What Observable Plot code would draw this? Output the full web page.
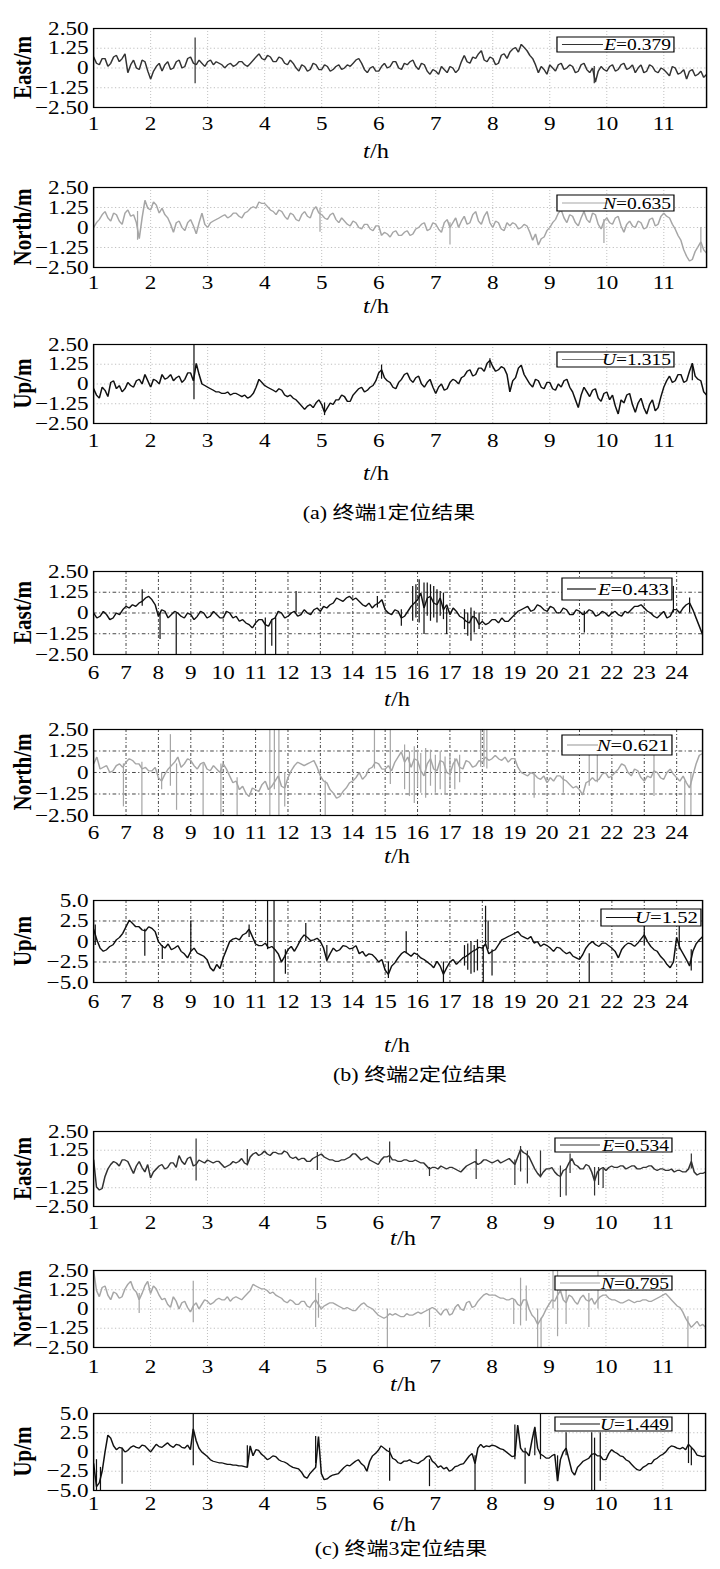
<!DOCTYPE html>
<html>
<head>
<meta charset="utf-8">
<script src="https://cdn.jsdelivr.net/npm/d3@7"></script>
<script src="https://cdn.jsdelivr.net/npm/@observablehq/plot@0.6"></script>
<style>
  html, body { margin: 0; padding: 0; background: #fff; overflow: hidden; }
  #root { position: relative; height: 1569px; transform-origin: 0 0; }
  .panel { position: absolute; left: 0; }
  .panel svg { display: block; overflow: visible; }
  .cap { position: absolute; width: 400px; text-align: center; white-space: nowrap;
         font-family: "Liberation Serif", "Noto Sans CJK SC", serif; font-size: 18px; line-height: 24px; color: #000; }
</style>
</head>
<body>
<div id="root"></div>
<script>
// ---------------- data ----------------
const xTicksAC = [1,2,3,4,5,6,7,8,9,10,11];
const xTicksB = [6,7,8,9,10,11,12,13,14,15,16,17,18,19,20,21,22,23,24];
const yTicks25 = [-2.5,-1.25,0,1.25,2.5];
const yTickLabels25 = ["−2.50","−1.25","0","1.25","2.50"];
const yTicks5 = [-5,-2.5,0,2.5,5];
const yTickLabels5 = ["−5.0","−2.5","0","2.5","5.0"];
const compNames = ["E","N","U"];
const compLabels = ["East/m","North/m","Up/m"];
const rmsA = ["0.379","0.635","1.315"];
const rmsB = ["0.433","0.621","1.52"];
const rmsC = ["0.534","0.795","1.449"];
const captions = ["(a) 终端1定位结果","(b) 终端2定位结果","(c) 终端3定位结果"];

// terminal 1: samples every 0.05 h from 1.00 h (one row per hour)
const a1_E = [
0.7,0.3,0.2,0.6,0.6,0.1,0.3,0.7,0.8,0.4,0.6,0.9,-0.3,0.2,0.5,0.0,-0.1,0.5,0.4,-0.2,
-0.7,-0.2,0.1,0.3,-0.2,0.2,0.4,-0.1,0.0,0.4,0.5,0.0,0.1,0.6,0.7,0.3,0.2,0.5,0.3,0.1,
0.4,0.5,0.2,0.4,0.3,0.2,0.0,0.2,0.3,0.1,0.2,0.4,0.4,0.2,0.1,0.3,0.5,0.7,0.9,0.6,
0.5,0.8,0.7,0.4,0.4,0.7,0.6,0.3,0.2,0.5,0.3,0.0,-0.2,0.2,0.1,-0.2,-0.1,0.3,0.2,-0.1,
-0.1,0.2,0.1,-0.2,-0.1,0.1,0.2,-0.1,0.0,0.2,0.1,0.3,0.5,0.6,0.3,-0.1,-0.3,0.0,0.1,-0.2,
-0.2,0.1,0.3,0.0,0.1,0.4,0.4,0.0,-0.1,0.3,0.2,0.4,0.5,0.1,-0.1,0.3,0.2,-0.2,-0.4,-0.1,
-0.2,-0.4,0.1,-0.1,-0.3,0.1,0.0,-0.3,-0.1,0.4,0.8,0.4,0.3,0.7,0.6,0.9,1.1,0.5,0.4,0.7,
0.6,0.2,0.3,0.8,0.9,0.6,1.0,1.2,1.3,1.0,1.5,1.3,1.1,0.8,0.6,0.2,-0.3,0.1,-0.1,-0.4,
0.2,0.0,-0.2,0.2,0.3,-0.1,0.0,0.2,0.1,-0.3,-0.2,0.2,0.3,-0.1,-0.3,0.0,-0.9,-0.2,0.1,-0.1,
-0.2,0.1,0.2,-0.2,-0.1,0.2,0.3,-0.1,0.0,0.2,-0.3,0.0,0.2,-0.3,-0.2,0.2,0.1,-0.2,-0.3,0.0,
-0.1,-0.3,-0.5,0.1,0.0,-0.4,-0.3,-0.1,-0.7,-0.2,-0.1,-0.5,-0.4,-0.2,-0.6,-0.4];
const a1_spikes = [[2.78,-1.0,1.9],[9.78,-1.0,0.1]];

const a2_N = [
0.0,0.3,0.5,0.8,1.0,0.6,0.4,0.9,0.8,0.4,0.2,0.9,1.1,0.7,0.8,0.3,-0.7,0.6,1.7,1.2,
1.1,1.6,1.4,0.9,1.2,0.8,0.6,0.2,-0.3,0.3,0.4,0.0,-0.2,0.3,0.5,0.1,-0.4,0.3,0.9,0.2,
0.0,0.3,0.4,0.5,0.6,0.7,0.8,0.6,0.7,0.9,0.9,0.7,0.6,0.9,1.0,1.2,1.3,1.2,1.6,1.5,
1.5,1.3,1.1,1.0,0.8,1.1,1.0,0.7,0.5,0.9,0.8,0.5,0.4,0.8,1.0,0.7,0.6,1.1,1.3,0.9,
0.8,0.6,0.5,0.8,0.9,0.5,0.3,0.6,0.4,0.2,0.1,0.4,0.3,0.0,-0.1,0.2,0.2,-0.1,-0.2,0.1,
0.1,-0.5,-0.3,-0.4,-0.6,-0.3,-0.2,-0.5,-0.5,-0.3,-0.2,-0.5,-0.4,-0.1,0.0,0.2,0.3,-0.2,-0.1,0.3,
0.2,-0.1,-0.3,0.3,0.5,0.0,0.3,0.6,0.0,0.4,0.7,0.2,0.3,0.8,1.0,0.4,0.2,0.7,1.0,0.3,
0.0,0.4,0.3,-0.1,-0.2,0.3,0.1,0.3,0.2,-0.1,0.0,0.2,0.1,-0.3,-0.8,-0.4,-1.1,-0.7,-0.6,-0.2,
0.0,0.3,0.5,0.9,1.1,0.6,0.3,0.8,0.7,0.3,0.1,0.6,1.0,0.5,0.3,0.9,0.8,0.2,-0.1,0.4,
0.6,0.3,0.2,0.6,0.7,0.1,-0.3,0.2,0.4,0.1,0.0,0.4,0.3,-0.1,0.0,0.5,0.6,0.1,0.2,0.7,
0.9,0.7,0.6,0.2,-0.1,-0.5,-0.8,-1.4,-1.8,-2.1,-2.0,-1.5,-1.2,-0.9,-1.4,-1.6];
const a2_spikes = [[1.77,-0.8,1.0],[4.97,-0.3,1.2],[7.25,-1.1,0.3],[9.95,-1.0,0.5],[11.65,-1.6,0.0]];

const a3_U = [
-0.3,-0.7,-0.9,-0.2,-0.4,-0.8,0.1,0.2,-0.3,-0.1,-0.5,-0.3,0.1,-0.1,-0.2,0.2,0.3,0.0,0.6,0.2,
-0.2,0.3,0.2,0.0,0.6,0.3,0.4,0.6,0.2,0.4,0.5,0.1,0.3,0.7,0.7,0.2,1.3,0.6,0.0,-0.1,
-0.2,-0.3,-0.4,-0.5,-0.5,-0.6,-0.6,-0.5,-0.7,-0.6,-0.6,-0.7,-0.8,-0.7,-0.9,-0.8,-0.6,-0.2,0.3,0.1,
-0.1,-0.2,-0.3,-0.4,-0.5,-0.3,-0.4,-0.7,-0.8,-0.7,-0.9,-1.0,-1.2,-1.4,-1.6,-1.4,-1.3,-1.5,-1.2,-1.0,
-1.3,-1.8,-1.5,-1.2,-1.3,-1.0,-1.0,-0.7,-0.8,-1.1,-1.1,-0.7,-0.5,-0.3,-0.2,-0.5,-0.4,-0.2,-0.1,0.2,
0.7,0.9,0.4,0.2,0.1,-0.2,-0.3,0.1,0.3,0.6,0.7,0.3,0.1,0.4,0.5,0.0,-0.2,0.1,0.3,-0.2,
-0.6,-0.2,0.0,-0.4,-0.3,0.1,0.3,0.2,0.0,0.4,0.5,0.8,0.9,0.5,0.6,1.0,1.0,0.8,1.3,1.5,
1.1,0.8,0.9,1.1,1.0,0.6,-0.5,0.2,0.4,1.0,1.2,0.6,0.3,0.0,-0.2,0.3,0.2,-0.2,-0.3,0.1,
0.1,-0.3,-0.4,0.0,-0.2,0.2,0.3,-0.2,-0.5,-1.0,-1.5,-0.7,-0.2,-0.5,-0.8,-0.4,-0.3,-0.9,-1.1,-0.6,
-0.5,-1.0,-0.7,-1.4,-1.9,-1.0,-1.2,-0.7,-0.6,-1.3,-1.8,-1.2,-0.9,-1.5,-1.9,-1.3,-1.0,-1.7,-1.5,-0.8,
-0.2,0.2,0.5,0.1,0.2,0.6,0.6,0.1,0.2,0.8,1.3,0.5,0.3,0.2,-0.5,-0.7];
const a3_spikes = [[2.76,-1.0,2.5],[5.05,-2.0,-1.2],[6.05,0.3,1.2],[7.95,1.0,1.6],[11.5,0.2,1.3]];

// terminal 2: samples every 0.1 h from 6.0 h (one row per two hours)
const b1_E = [
0.0,-0.3,-0.2,0.1,-0.1,-0.4,-0.3,0.0,-0.1,0.2,0.4,0.3,0.5,0.4,0.6,0.7,0.9,1.0,0.8,0.5,
-0.2,0.2,0.1,-0.3,-0.1,0.1,0.0,-0.2,-0.3,0.0,-0.1,-0.4,-0.2,0.1,0.0,-0.3,-0.2,0.1,-0.1,-0.3,
-0.3,0.1,0.0,-0.3,-0.2,-0.5,-0.4,-0.6,-0.7,-0.9,-0.6,-0.4,-0.4,-0.7,-0.8,-0.4,-0.3,0.1,0.0,-0.3,
-0.2,0.0,0.1,-0.2,-0.1,0.2,0.0,-0.1,0.2,0.3,0.1,0.4,0.3,0.5,0.6,0.9,0.8,0.7,0.9,1.0,
0.8,0.9,0.7,0.5,0.4,0.6,0.3,0.5,0.6,0.8,0.2,0.0,-0.1,0.2,0.1,-0.3,-0.2,0.1,0.4,0.6,
0.8,1.2,0.3,0.9,1.0,0.6,0.5,0.9,0.2,0.5,-0.1,0.3,0.1,-0.2,-0.3,-0.5,-0.6,-0.2,-0.3,-0.7,
-0.5,-0.7,-0.6,-0.4,-0.4,-0.6,-0.3,-0.5,-0.5,-0.3,-0.1,0.1,0.2,0.3,0.4,0.1,0.2,0.5,0.4,0.2,
0.1,0.4,0.3,0.0,0.0,0.3,0.2,-0.1,-0.1,0.2,0.1,-0.1,0.0,0.2,0.1,-0.2,-0.1,0.1,0.0,-0.2,
0.0,0.1,-0.1,-0.2,0.1,0.0,0.2,0.4,0.4,0.5,0.3,0.1,0.0,-0.2,-0.3,-0.1,0.1,-0.3,-0.2,0.2,
0.2,0.0,0.3,0.5,0.6,0.2,-0.3,-0.8,-1.3];
const b1_spikes = [[7.5,0.4,1.4],[8.05,-1.6,0.0],[8.55,-2.5,0.0],[11.3,-2.5,-0.3],[11.5,-2.0,-0.4],[11.62,-2.5,-0.3],
[12.25,0.0,1.3],[14.76,0.3,1.0],[15.5,-0.8,0.2],[15.85,-0.5,1.6],[15.95,-0.3,1.7],[16.05,-0.6,2.0],[16.2,-1.3,1.8],
[16.3,-0.2,1.8],[16.4,-0.5,1.7],[16.5,-0.3,1.6],[16.6,-0.6,1.4],[16.7,-0.2,1.3],[16.8,-0.4,1.2],[16.9,-1.3,0.3],
[17.45,-1.0,0.2],[17.55,-1.4,0.0],[17.65,-1.7,0.3],[17.75,-1.2,0.1],[17.9,-1.0,0.0],[21.15,-1.2,0.1],[23.9,0.0,1.6],[24.4,0.0,0.9]];

const b2_N = [
0.5,0.9,0.2,0.3,0.4,0.0,0.1,0.4,0.5,0.3,0.6,0.8,0.7,0.5,0.5,0.2,0.3,0.1,0.1,0.3,
-0.3,-0.5,-0.1,0.2,0.4,0.6,0.9,0.3,0.5,0.8,0.7,0.4,0.2,0.5,0.6,0.2,0.1,0.4,0.2,0.0,
0.5,0.2,-0.2,-0.6,-0.5,-1.0,-0.8,-1.2,-1.4,-0.9,-1.0,-1.1,-0.7,-0.5,-1.0,-0.8,-0.5,-0.2,-0.8,-0.9,
-0.3,0.1,0.4,0.6,0.5,0.4,0.5,0.6,0.7,0.3,-0.2,-0.5,-0.6,-1.0,-1.2,-1.5,-1.4,-1.1,-0.9,-0.6,
-0.5,-0.3,0.0,-0.4,-0.2,0.2,0.3,0.6,0.5,0.2,0.2,0.4,0.1,0.6,0.9,1.2,0.6,0.9,0.3,0.8,
0.7,0.1,-0.2,0.5,0.8,0.2,0.1,0.7,0.6,0.0,-0.1,0.5,0.8,0.3,0.2,0.7,0.6,0.3,0.4,0.7,
0.6,0.9,0.7,0.8,1.0,0.8,0.7,0.9,0.6,0.8,0.8,0.3,0.0,-0.1,-0.2,0.0,-0.1,-0.3,-0.4,-0.2,
-0.6,-0.3,-0.5,-0.2,-0.2,-0.4,-0.5,-0.7,-0.9,-0.8,-1.0,-1.3,-0.6,-0.5,-0.3,-0.5,-0.4,-0.1,0.0,-0.3,
-0.2,0.0,0.2,0.5,0.4,0.0,-0.2,0.2,0.1,-0.3,-0.5,-0.2,-0.3,0.1,0.0,-0.3,-0.4,0.0,0.2,-0.1,
-0.3,-0.5,-0.2,-0.6,-0.9,-0.2,0.5,1.0,1.1];
const b2_spikes = [[6.92,-2.0,0.5],[7.49,-2.5,0.6],[8.1,-1.0,0.0],[8.37,-0.8,2.2],[8.56,-2.2,0.5],[9.38,-2.5,0.5],
[9.93,-2.5,0.5],[10.43,-2.5,-0.3],[11.44,-2.5,2.5],[11.58,-1.0,2.5],[11.72,-2.5,2.5],[11.9,-2.0,0.0],[13.15,-2.5,-0.5],
[14.67,0.2,2.5],[15.16,-0.7,2.5],[15.6,-1.0,1.6],[15.75,-1.4,1.2],[15.9,-1.8,1.5],[16.0,-0.9,1.3],[16.1,-1.2,1.1],
[16.25,-1.5,1.4],[16.4,-0.8,1.3],[16.55,-1.2,1.0],[16.7,-1.0,1.2],[16.85,-1.3,0.9],[17.0,-0.9,1.1],[17.15,-1.0,0.8],
[17.3,-0.6,1.0],[17.95,0.3,2.5],[18.05,0.3,2.5],[18.14,0.2,2.5],[19.6,-1.5,0.0],[20.5,-1.2,-0.2],[21.3,-0.8,1.8],
[21.55,-0.6,1.3],[23.3,-1.4,2.2],[24.25,-2.5,-0.5],[24.44,-2.5,0.0]];

const b3_U = [
1.5,0.2,-0.8,-1.2,-1.0,-0.6,-0.4,0.2,0.5,1.0,1.8,2.6,2.2,1.8,1.8,1.4,1.3,1.8,1.6,1.2,
0.0,-0.5,-0.8,-0.3,-1.0,-0.8,-0.5,-1.2,-1.5,-2.0,-1.2,-0.8,-1.4,-1.6,-1.8,-2.2,-3.2,-3.6,-2.8,-3.3,
-2.0,-1.0,0.0,0.3,0.4,0.2,0.8,1.0,1.5,0.6,-0.3,-0.5,-0.5,-0.2,-0.8,-0.6,-1.0,-1.5,-2.5,-1.8,
-1.0,-0.6,-1.2,-0.5,0.3,0.8,0.5,0.1,0.2,0.4,0.0,-0.8,-2.3,-1.5,-0.8,-1.2,-1.0,-0.5,-0.6,-0.9,
-0.8,-0.5,-1.5,-1.2,-1.8,-1.5,-1.6,-2.0,-2.5,-2.2,-3.5,-4.0,-3.0,-2.6,-2.0,-1.5,-1.2,-1.5,-1.8,-1.4,
-1.6,-2.0,-2.2,-2.5,-2.8,-3.2,-2.4,-3.0,-4.0,-3.2,-2.5,-2.2,-2.8,-2.4,-2.0,-1.8,-1.5,-1.2,-1.0,-0.7,
-0.8,-0.3,-1.5,-1.2,-1.0,-0.4,0.2,0.4,0.6,0.8,1.0,1.2,0.7,0.5,0.3,0.6,-0.2,0.0,-0.6,-0.3,
-0.5,-0.8,-1.2,-0.7,-0.8,-1.2,-1.5,-1.3,-1.8,-2.0,-2.2,-1.6,-0.8,-0.3,0.0,-0.4,-0.6,-0.2,-0.2,-0.5,
-0.8,-1.2,-2.0,-1.0,-0.5,-0.2,-0.3,-0.6,-0.2,0.3,0.8,0.0,-0.6,-1.0,-1.2,-1.8,-2.2,-2.8,-3.2,-2.5,
0.5,-0.8,-1.5,-2.2,-3.0,-1.2,-0.3,0.2,0.6];
const b3_spikes = [[6.05,-0.5,2.0],[7.58,-1.8,1.5],[8.12,-2.2,-0.5],[9.0,-1.2,2.5],[10.8,0.5,2.0],[11.37,-1.0,5.0],
[11.57,-5.0,5.0],[11.92,-4.0,-1.0],[12.55,0.0,2.2],[13.2,-2.5,-0.5],[15.1,-4.5,-2.5],[15.65,-1.5,1.2],[16.8,-5.0,-2.5],
[17.45,-3.0,-0.5],[17.55,-3.5,-0.3],[17.65,-4.0,0.0],[17.75,-3.8,-0.5],[17.85,-3.6,0.2],[18.03,-5.0,-0.5],
[18.1,-0.5,4.3],[18.18,-1.0,2.5],[18.3,-4.2,-1.0],[21.3,-5.0,-1.5],[23.0,-0.5,2.0],[24.08,-1.0,2.5],[24.45,-3.6,-1.0]];

// terminal 3: samples every 0.05 h from 1.00 h (one row per hour)
const c1_E = [
0.6,-1.2,-1.4,-1.3,-0.5,0.0,0.3,0.5,0.4,0.2,0.6,0.6,0.5,0.1,-0.3,0.2,0.5,0.1,-0.2,0.3,
-0.6,-0.2,0.0,0.2,0.3,0.0,0.1,0.4,0.4,0.1,0.9,0.5,0.3,0.7,0.8,0.2,0.3,0.6,0.5,0.4,
0.6,0.5,0.4,0.5,0.5,0.3,0.1,0.2,0.3,0.5,0.4,0.5,0.7,0.4,0.3,0.8,1.0,1.1,0.9,1.0,
1.2,1.0,0.9,1.1,1.1,1.0,1.0,1.2,1.1,0.8,0.7,0.8,0.6,0.7,0.7,0.5,0.5,0.7,0.8,0.9,
1.0,0.8,0.7,0.6,0.6,0.5,0.5,0.6,0.6,0.7,0.8,1.0,1.0,0.8,0.6,0.7,0.8,0.6,0.5,0.4,
0.3,0.6,0.8,0.8,0.9,0.6,0.6,0.5,0.5,0.6,0.6,0.5,0.5,0.6,0.5,0.4,0.4,0.2,0.0,0.1,
0.1,0.0,0.2,0.1,0.0,0.1,0.1,0.0,-0.1,-0.2,0.0,0.2,0.3,0.4,0.5,0.3,0.4,0.6,0.6,0.5,
0.4,0.5,0.6,0.4,0.5,0.6,0.7,0.5,0.3,0.8,1.3,1.1,1.0,0.8,0.4,0.0,-0.3,-0.5,-0.2,0.0,
0.0,0.1,-0.2,-0.4,-0.5,-0.1,0.0,0.4,0.7,0.3,0.2,0.0,0.0,0.3,0.2,-0.2,-0.8,-0.2,0.0,0.1,
-0.1,0.1,0.2,0.1,0.1,0.2,0.2,0.0,0.1,0.2,0.2,0.0,0.0,0.1,0.1,0.2,0.2,0.0,-0.1,0.0,
0.0,-0.1,-0.1,0.0,-0.2,-0.1,-0.1,-0.2,-0.2,0.0,0.5,-0.2,-0.4,-0.3,-0.3,-0.2];
const c1_spikes = [[2.8,-0.8,2.0],[3.7,0.2,1.3],[4.93,-0.1,1.1],[6.2,0.4,1.8],[6.9,-0.5,0.1],[7.72,-0.7,1.3],
[8.4,-1.1,0.6],[8.5,-0.2,1.5],[8.62,-1.0,1.2],[8.85,-0.6,1.2],[9.2,-1.9,0.2],[9.3,-1.8,0.0],[9.37,-0.3,1.0],
[9.8,-1.8,0.1],[9.87,-1.1,0.1],[9.95,-1.3,0.0],[11.5,0.0,1.0]];

const c2_N = [
2.5,1.2,0.8,1.4,1.5,0.9,0.6,1.1,1.0,0.7,0.8,1.3,1.6,1.8,1.3,1.1,0.6,1.0,1.5,1.8,
1.0,1.5,1.3,0.9,0.6,0.7,0.3,0.1,0.8,0.5,0.0,0.4,0.5,0.1,-0.2,0.2,0.4,0.0,0.3,0.6,
0.5,0.3,0.4,0.6,0.7,0.6,0.6,0.8,0.5,0.7,0.8,0.7,0.6,0.8,1.0,1.2,1.6,1.5,1.4,1.3,
1.3,1.2,1.0,1.1,0.9,0.8,0.7,0.5,0.4,0.6,0.5,0.3,0.3,0.5,0.5,0.2,0.1,0.4,0.6,0.3,
0.0,0.2,0.3,0.4,0.4,0.3,0.2,0.1,0.0,0.1,0.0,-0.1,-0.1,0.1,0.3,0.4,0.2,0.1,0.0,-0.2,
-0.4,-0.5,-0.6,-0.5,-0.3,-0.4,-0.3,-0.4,-0.5,-0.5,-0.3,-0.4,-0.4,-0.3,-0.2,-0.3,-0.2,-0.1,0.0,0.1,
0.0,-0.2,-0.4,-0.1,0.0,-0.4,-0.3,0.1,0.3,0.0,-0.1,0.4,0.5,0.1,0.2,0.5,0.7,0.9,1.0,0.9,
0.9,0.9,0.8,0.7,0.7,0.6,0.6,0.7,0.6,0.3,0.2,0.6,0.6,0.0,-0.4,-0.6,-1.0,-0.7,-0.4,0.0,
0.3,0.6,0.5,0.9,1.2,0.6,0.4,0.9,0.8,0.5,0.3,0.7,0.9,0.6,0.5,0.7,0.3,0.6,0.8,0.9,
0.9,0.7,0.6,0.6,0.5,0.4,0.4,0.5,0.6,0.5,0.4,0.5,0.5,0.6,0.6,0.5,0.5,0.6,0.7,0.8,
0.9,1.0,0.8,0.6,0.4,0.2,0.1,-0.2,-0.6,-0.9,-1.2,-1.0,-0.8,-1.1,-1.0,-1.2];
const c2_spikes = [[1.8,-0.3,1.0],[2.75,-0.9,1.8],[4.9,-1.2,2.0],[4.95,-0.6,1.0],[6.16,-2.5,0.0],[6.9,-1.2,0.0],
[8.38,-1.0,0.6],[8.5,-1.1,2.0],[8.6,-0.8,1.5],[8.8,-2.5,0.0],[8.86,-2.5,-0.6],[9.07,0.0,2.5],[9.15,-1.8,2.5],
[9.3,-1.0,2.0],[9.7,-1.2,1.0],[9.86,0.0,2.5],[11.44,-2.5,-0.5]];

const c3_U = [
-1.5,-4.5,-4.0,-2.5,0.0,2.2,1.8,0.8,0.3,0.6,0.5,0.0,0.2,0.6,0.8,0.6,0.5,0.9,0.8,0.4,
0.0,0.5,1.0,0.7,0.6,0.9,1.2,0.8,0.6,1.0,0.9,0.6,0.5,0.9,0.3,3.0,1.5,0.5,0.0,-0.3,
-0.6,-1.0,-1.2,-1.3,-1.4,-1.4,-1.5,-1.6,-1.6,-1.7,-1.7,-1.8,-1.8,-1.9,-2.0,0.8,-0.5,0.3,0.2,-0.3,
-0.6,-1.0,-0.8,-0.5,-0.6,-1.0,-1.2,-1.3,-1.5,-1.8,-2.0,-2.1,-2.2,-2.6,-3.2,-3.4,-2.8,-2.4,-2.0,2.0,
-2.8,-3.6,-3.5,-3.2,-3.0,-2.9,-2.8,-2.4,-2.0,-1.7,-1.8,-1.5,-1.2,-1.0,-1.5,-1.8,-2.5,-1.2,-0.5,-0.2,
0.2,0.8,0.5,0.2,0.0,-0.8,-1.0,-1.4,-1.5,-1.2,-1.2,-1.0,-1.3,-1.4,-1.5,-1.2,-1.0,-0.6,-0.5,-1.2,
-1.5,-2.0,-1.8,-2.2,-2.0,-2.5,-2.3,-1.9,-1.8,-1.6,-1.5,-1.0,-0.5,-0.2,-1.5,0.5,1.0,0.6,0.8,0.7,
0.9,0.8,0.6,0.4,0.3,0.0,-0.3,-0.6,-0.5,3.5,0.5,0.0,0.0,-0.5,1.5,3.2,0.5,-0.3,-0.5,-0.8,
-0.8,-0.5,-0.3,-3.8,-1.0,0.0,0.5,-1.0,-2.5,-3.0,-2.0,-1.6,-1.2,-1.0,-0.8,-0.3,-0.2,-0.5,-0.5,-1.0,
-1.0,-0.2,0.3,0.0,-0.2,-0.5,-0.6,-1.0,-1.2,-1.6,-2.0,-2.3,-2.4,-2.0,-1.8,-1.5,-1.5,-1.0,-0.8,-0.5,
-0.3,0.0,0.5,0.8,0.7,0.5,0.4,0.6,0.3,1.0,0.6,0.2,-0.4,-0.5,-0.6,-0.5];
const c3_spikes = [[1.05,-5.0,-1.0],[1.12,-5.0,-2.0],[1.5,-4.2,0.5],[2.75,-1.8,5.0],[3.7,-2.0,0.8],[4.9,-1.5,2.0],
[6.2,-3.8,0.5],[6.9,-4.5,-1.0],[7.7,-5.0,-0.5],[8.4,-1.0,3.5],[8.58,-4.2,0.5],[8.75,-0.5,3.2],[8.85,-1.0,5.0],
[9.15,-3.8,-0.5],[9.3,-0.5,2.5],[9.75,-5.0,2.5],[9.8,-5.0,1.8],[9.9,-3.8,2.5],[11.45,-1.5,5.0],[11.5,-1.8,0.5]];

// ---------------- layout ----------------
const K = 1.22;               // horizontal stretch of the original figure
const W = 720 / K;
const P = v => v / K;
const root = document.getElementById("root");
root.style.width = W + "px";
root.style.transform = `scaleX(${K})`;
const FONT = "'Liberation Serif', 'Times New Roman', serif";

function panel(c) {
  const svgTop = c.top - 14, svgBottom = c.th + 16, H = svgBottom - svgTop;
  const data = c.values.map((v, i) => ({t: c.t0 + i * c.step, v}));
  const sp = c.spikes.map(([t, lo, hi]) => ({t, lo, hi}));
  const yd = [c.yTicks[0], c.yTicks[c.yTicks.length - 1]];
  const svg = Plot.plot({
    width: W, height: H,
    marginLeft: P(93), marginRight: W - P(c.right), marginTop: c.top - svgTop, marginBottom: svgBottom - c.bottom,
    style: {fontFamily: FONT, fontSize: "19px", color: "#000", background: "transparent", overflow: "visible"},
    x: {domain: c.xDomain, ticks: c.xTicks, tickSize: 0, tickPadding: c.tick - c.bottom - 7, tickFormat: d => String(d), label: null},
    y: {domain: yd, ticks: c.yTicks, tickSize: 0, tickPadding: P(5), tickFormat: d => c.yLabels[c.yTicks.indexOf(d)], label: null},
    marks: [
      Plot.gridX(c.xTicks.filter(d => d > c.xDomain[0]), {stroke: c.gridColor, strokeOpacity: 1, strokeWidth: 0.8, strokeDasharray: c.dash}),
      Plot.gridY(c.yTicks.slice(1, -1), {stroke: c.gridColor, strokeOpacity: 1, strokeWidth: 0.8, strokeDasharray: c.dash}),
      Plot.line(data, {x: "t", y: "v", stroke: c.color, strokeWidth: 1.25, strokeLinejoin: "miter", clip: true}),
      Plot.ruleX(sp, {x: "t", y1: "lo", y2: "hi", stroke: c.color, strokeWidth: 1, clip: true}),
      Plot.frame({stroke: "#000", strokeWidth: 1.2})
    ]
  });
  const s = d3.select(svg);
  const top = c.top - svgTop;
  s.append("text")
    .attr("transform", `translate(${P(22)},${top + (c.bottom - c.top) / 2}) rotate(-90)`)
    .attr("text-anchor", "middle").attr("dy", "0.35em")
    .attr("font-family", FONT).attr("font-weight", "bold").attr("font-size", 21)
    .text(c.ylabel);
  const th = s.append("text").attr("x", P(c.thX)).attr("y", c.th - svgTop).attr("dy", "0.35em")
    .attr("text-anchor", "middle").attr("font-family", FONT).attr("font-size", 20);
  th.append("tspan").attr("font-style", "italic").text("t");
  th.append("tspan").text("/h");
  const L = c.leg;
  const g = s.append("g");
  g.append("rect").attr("x", P(L.x0)).attr("y", L.y - svgTop).attr("width", P(L.x1 - L.x0)).attr("height", L.h)
    .attr("fill", "#fff").attr("stroke", "#000").attr("stroke-width", 1);
  g.append("line").attr("x1", P(L.x0 + 5)).attr("x2", P(L.lx)).attr("y1", L.y - svgTop + L.h / 2).attr("y2", L.y - svgTop + L.h / 2)
    .attr("stroke", c.legColor || c.color).attr("stroke-width", 1.2);
  const lt = g.append("text").attr("x", P(L.x1 - 3)).attr("y", L.y - svgTop + L.h / 2).attr("dy", "0.35em")
    .attr("text-anchor", "end").attr("font-family", FONT).attr("font-size", L.fs);
  lt.append("tspan").attr("font-style", "italic").text(c.name);
  lt.append("tspan").text("=" + c.rms);
  const div = document.createElement("div");
  div.className = "panel";
  div.style.top = svgTop + "px";
  div.appendChild(svg);
  root.appendChild(div);
}

function caption(text, cx, cy) {
  const d = document.createElement("div");
  d.className = "cap";
  d.style.left = (P(cx) - 200) + "px";
  d.style.top = (cy - 12) + "px";
  d.textContent = text;
  root.appendChild(d);
}

const gridLight = "#b8b8b8", dashLight = "1,2";
const gridDark = "#303030", dashDark = "3,2,1,2";
const colE = "#333333", colN = "#a6a6a6", colU = "#111111";

const A = {xDomain: [1, 11.75], xTicks: xTicksAC, t0: 1, step: 0.05, right: 706, gridColor: gridLight, dash: dashLight, thX: 376};
const B = {xDomain: [6, 24.8], xTicks: xTicksB, t0: 6, step: 0.1, right: 702, gridColor: gridDark, dash: dashDark, thX: 397};
const C = {xDomain: [1, 11.75], xTicks: xTicksAC, t0: 1, step: 0.05, right: 705, gridColor: gridLight, dash: dashLight, thX: 403};

const legA = (y, h) => ({x0: 557, x1: 674, lx: 603, y, h, fs: 16});
const legB = (y, h, x0, x1, lx) => ({x0, x1, lx, y, h, fs: 17});
const legC = (y, h) => ({x0: 555, x1: 672, lx: 600, y, h, fs: 16});

panel({...A, top: 28, bottom: 107, tick: 123, th: 151, values: a1_E, spikes: a1_spikes, color: colE, yTicks: yTicks25, yLabels: yTickLabels25, ylabel: compLabels[0], name: compNames[0], rms: rmsA[0], leg: legA(37, 15)});
panel({...A, top: 187, bottom: 267, tick: 282, th: 306, values: a2_N, spikes: a2_spikes, color: colN, yTicks: yTicks25, yLabels: yTickLabels25, ylabel: compLabels[1], name: compNames[1], rms: rmsA[1], leg: {...legA(195, 16), lx: 608}});
panel({...A, top: 344, bottom: 423, tick: 440, th: 473, values: a3_U, spikes: a3_spikes, color: colU, yTicks: yTicks25, yLabels: yTickLabels25, ylabel: compLabels[2], name: compNames[2], rms: rmsA[2], legColor: "#777", leg: {...legA(352, 15), lx: 606}});
caption(captions[0], 389, 513);

panel({...B, top: 571, bottom: 654, tick: 672, th: 699, values: b1_E, spikes: b1_spikes, color: colU, yTicks: yTicks25, yLabels: yTickLabels25, ylabel: compLabels[0], name: compNames[0], rms: rmsB[0], leg: legB(578, 22, 562, 672, 596)});
panel({...B, top: 729, bottom: 815, tick: 832, th: 856, values: b2_N, spikes: b2_spikes, color: colN, yTicks: yTicks25, yLabels: yTickLabels25, ylabel: compLabels[1], name: compNames[1], rms: rmsB[1], leg: legB(735, 20, 562, 672, 598)});
panel({...B, top: 900, bottom: 982, tick: 1001, th: 1045, values: b3_U, spikes: b3_spikes, color: colU, yTicks: yTicks5, yLabels: yTickLabels5, ylabel: compLabels[2], name: compNames[2], rms: rmsB[2], leg: legB(909, 17, 601, 701, 640)});
caption(captions[1], 420, 1075);

panel({...C, top: 1131, bottom: 1206, tick: 1222, th: 1238, values: c1_E, spikes: c1_spikes, color: colE, yTicks: yTicks25, yLabels: yTickLabels25, ylabel: compLabels[0], name: compNames[0], rms: rmsC[0], leg: legC(1138, 14)});
panel({...C, top: 1270, bottom: 1347, tick: 1366, th: 1384, values: c2_N, spikes: c2_spikes, color: colN, yTicks: yTicks25, yLabels: yTickLabels25, ylabel: compLabels[1], name: compNames[1], rms: rmsC[1], leg: legC(1276, 14)});
panel({...C, top: 1413, bottom: 1490, tick: 1503, th: 1524, values: c3_U, spikes: c3_spikes, color: colU, yTicks: yTicks5, yLabels: yTickLabels5, ylabel: compLabels[2], name: compNames[2], rms: rmsC[2], leg: legC(1417, 14)});
caption(captions[2], 401, 1549);
</script>
</body>
</html>
